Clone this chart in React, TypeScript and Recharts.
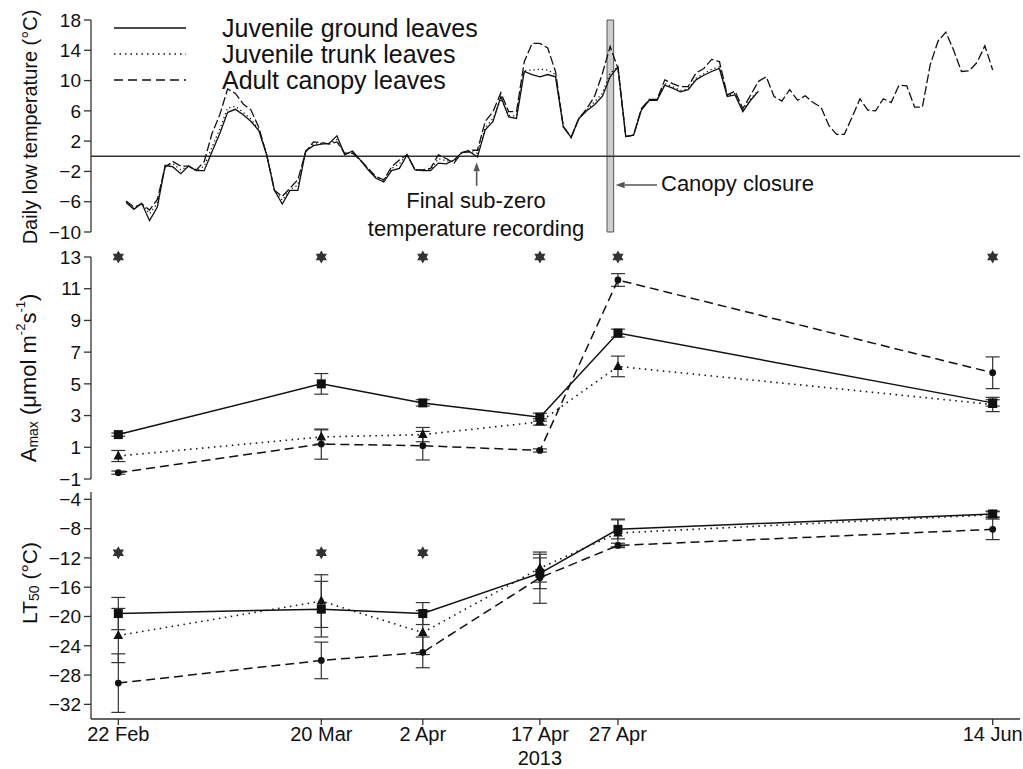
import React from 'react';
import {
  ComposedChart,
  Line,
  Scatter,
  XAxis,
  YAxis,
  ErrorBar,
  ReferenceLine,
  ReferenceArea,
} from 'recharts';

const FONT = '"Liberation Sans", Arial, Helvetica, sans-serif';
const INK = '#111';
const AXIS = '#333';

// Daily low temperature, one value per day from 23 Feb (day 54)
const tempStartDay = 54;
const groundTemp = [
  -6.1, -7.0, -6.2, -8.5, -6.7, -1.2, -1.4, -2.3, -1.3, -1.9, -1.9, 0.6, 3.0, 5.8, 6.2, 5.5,
  4.6, 3.4, 0.2, -4.5, -6.3, -4.5, -4.5, 0.7, 1.4, 1.6, 1.7, 2.7, 0.2, 0.7, -0.5, -1.8,
  -2.9, -3.4, -1.9, -1.6, 0.2, -1.8, -1.9, -1.9, -0.9, -1.0, -0.5, 0.5, 0.6, -0.1, 3.5, 4.6,
  7.9, 5.2, 5.0, 11.2, 10.8, 10.5, 10.8, 10.5, 3.9, 2.5, 5.0, 6.0, 6.8, 7.9, 10.5, 11.8,
  2.6, 2.8, 6.1, 7.4, 7.4, 9.4, 9.0, 8.5, 8.8, 10.1, 10.7, 11.2, 11.6, 7.9, 8.1, 5.9,
  7.4, 8.6,
];
const trunkTemp = [
  -6.0, -6.9, -6.2, -7.6, -6.2, -1.3, -1.0, -1.8, -1.3, -1.9, -1.3, 1.2, 3.6, 6.4, 6.6, 5.8,
  4.9, 3.5, 0.2, -4.5, -5.8, -4.4, -3.8, 0.6, 1.6, 1.7, 1.7, 2.2, 0.3, 0.6, -0.5, -1.7,
  -2.8, -3.2, -1.6, -1.0, 0.2, -1.8, -1.8, -1.8, -0.3, -0.6, -0.7, 0.5, 0.7, 0.4, 3.8, 5.0,
  7.6, 5.4, 5.3, 11.3, 11.4, 11.5, 11.4, 10.8, 3.9, 2.5, 5.0, 6.1, 7.2, 8.3, 11.0, 11.8,
  2.6, 2.8, 6.2, 7.4, 7.4, 9.6, 9.2, 8.7, 8.9, 10.3, 10.9, 11.5, 11.8, 8.0, 8.3, 6.0,
  7.6, 8.7,
];
const canopyTemp = [
  -5.9, -6.7, -6.3, -7.1, -5.7, -1.4, -0.7, -1.3, -1.3, -1.8, -0.7, 3.0, 5.5, 8.9, 8.3, 6.9,
  6.1, 3.8, 0.2, -4.5, -5.3, -4.2, -3.1, 0.6, 1.9, 1.8, 1.6, 1.9, 0.4, 0.4, -0.5, -1.6,
  -2.7, -3.1, -1.4, -0.5, 0.2, -1.8, -1.8, -1.6, 0.2, -0.3, -0.9, 0.5, 0.8, 0.8, 4.6, 5.9,
  8.4, 5.9, 5.9, 12.5, 14.9, 14.9, 14.3, 11.2, 3.9, 2.5, 5.0, 6.3, 7.9, 10.9, 14.5, 11.6,
  2.6, 2.8, 6.3, 7.5, 7.5, 10.1, 9.6, 9.2, 9.2, 11.0, 11.6, 12.8, 12.5, 8.1, 8.6, 6.3,
  8.1, 9.9, 10.5, 7.9, 7.3, 8.8, 7.4, 8.0, 7.1, 6.5, 4.1, 2.9, 2.9, 5.2, 7.6, 6.1,
  6.0, 7.6, 7.1, 9.4, 9.3, 6.5, 6.5, 12.1, 15.2, 16.4, 14.0, 11.2, 11.3, 12.4, 14.6, 11.4,
];

// sampling dates, day of year 2013
const sampleDays = [53, 79, 92, 107, 117, 165];
const sampleLabels = ['22 Feb', '20 Mar', '2 Apr', '17 Apr', '27 Apr', '14 Jun'];
const yearLabel = '2013';
const yearUnderDay = 107;

const amaxGround = [1.8, 5.0, 3.8, 2.9, 8.2, 3.8];
const amaxGroundErr = [0.1, 0.65, 0.2, 0.25, 0.25, 0.2];
const amaxTrunk = [0.45, 1.65, 1.8, 2.6, 6.1, 3.7];
const amaxTrunkErr = [0.35, 0.45, 0.45, 0.2, 0.65, 0.45];
const amaxCanopy = [-0.6, 1.2, 1.1, 0.8, 11.55, 5.7];
const amaxCanopyErr = [0.1, 0.95, 0.9, 0.1, 0.4, 1.0];

const ltGround = [-19.6, -19.0, -19.6, -14.1, -8.1, -6.0];
const ltGroundErr = [2.2, 3.8, 1.5, 2.1, 1.3, 0.4];
const ltTrunk = [-22.6, -17.9, -22.2, -13.4, -8.6, -6.1];
const ltTrunkErr = [3.7, 3.6, 3.0, 1.9, 1.9, 0.4];
const ltCanopy = [-29.1, -26.0, -24.9, -14.7, -10.3, -8.1];
const ltCanopyErr = [4.0, 2.5, 2.1, 3.5, 0.3, 1.4];

// significance markers
const amaxSigDays = [53, 79, 92, 107, 117, 165];
const amaxSigLevel = 13;
const ltSigDays = [53, 79, 92];
const ltSigLevel = -11.3;

const tempTicks = [-10, -6, -2, 2, 6, 10, 14, 18];
const amaxTicks = [-1, 1, 3, 5, 7, 9, 11, 13];
const ltTicks = [-32, -28, -24, -20, -16, -12, -8, -4];

const xDomain: [number, number] = [49.5, 168.5];
const closureDays = [115.6, 116.45];
const subZeroDay = 98.9;

const legendItems = [
  { name: 'Juvenile ground leaves', dash: undefined as string | undefined },
  { name: 'Juvenile trunk leaves', dash: '1.5 4' },
  { name: 'Adult canopy leaves', dash: '9 5' },
];

const tempRows = canopyTemp.map((c, i) => ({
  day: tempStartDay + i,
  ground: i < groundTemp.length ? groundTemp[i] : null,
  trunk: i < trunkTemp.length ? trunkTemp[i] : null,
  canopy: c,
}));

const amaxRows = sampleDays.map((d, i) => ({
  day: d,
  ground: amaxGround[i],
  groundErr: amaxGroundErr[i],
  trunk: amaxTrunk[i],
  trunkErr: amaxTrunkErr[i],
  canopy: amaxCanopy[i],
  canopyErr: amaxCanopyErr[i],
}));

const ltRows = sampleDays.map((d, i) => ({
  day: d,
  ground: ltGround[i],
  groundErr: ltGroundErr[i],
  trunk: ltTrunk[i],
  trunkErr: ltTrunkErr[i],
  canopy: ltCanopy[i],
  canopyErr: ltCanopyErr[i],
}));

const amaxSigRows = amaxSigDays.map((d) => ({ day: d, sig: amaxSigLevel }));
const ltSigRows = ltSigDays.map((d) => ({ day: d, sig: ltSigLevel }));

const minus = (v: number) => (v < 0 ? `\u2212${Math.abs(v)}` : `${v}`);

const SquareDot = (p: any) =>
  p.cx == null || p.cy == null ? null : (
    <rect key={`sq-${p.index}`} x={p.cx - 4.5} y={p.cy - 4.5} width={9} height={9} fill={INK} />
  );

const TriangleDot = (p: any) =>
  p.cx == null || p.cy == null ? null : (
    <polygon
      key={`tr-${p.index}`}
      points={`${p.cx},${p.cy - 5.5} ${p.cx - 4.8},${p.cy + 3.5} ${p.cx + 4.8},${p.cy + 3.5}`}
      fill={INK}
    />
  );

const CircleDot = (p: any) =>
  p.cx == null || p.cy == null ? null : (
    <circle key={`ci-${p.index}`} cx={p.cx} cy={p.cy} r={3.4} fill={INK} />
  );

// six-pointed significance star
const Hexagram = (p: any) => {
  const R = 6.5;
  const r = R / Math.sqrt(3);
  const pts: string[] = [];
  for (let k = 0; k < 12; k++) {
    const a = -Math.PI / 2 + (k * Math.PI) / 6;
    const rad = k % 2 === 0 ? R : r;
    pts.push(`${p.cx + rad * Math.cos(a)},${p.cy + rad * Math.sin(a)}`);
  }
  return <polygon points={pts.join(' ')} fill="#333" />;
};

const Arrow = (p: any) => {
  const { x1, y1, x2, y2 } = p;
  const ang = Math.atan2(y2 - y1, x2 - x1);
  const len = 9;
  const half = 3.2;
  const bx = x2 - len * Math.cos(ang);
  const by = y2 - len * Math.sin(ang);
  const px = -Math.sin(ang) * half;
  const py = Math.cos(ang) * half;
  return (
    <g>
      <line x1={x1} y1={y1} x2={bx} y2={by} stroke="#555" strokeWidth={1.6} />
      <polygon points={`${x2},${y2} ${bx + px},${by + py} ${bx - px},${by - py}`} fill="#555" />
    </g>
  );
};

const DateTick = (p: any) => {
  const { x, y, payload } = p;
  const i = sampleDays.indexOf(payload.value);
  return (
    <g>
      <text x={x} y={y} dy="0.71em" textAnchor="middle" fontSize={20} fontFamily={FONT} fill={INK}>
        {sampleLabels[i]}
      </text>
      {payload.value === yearUnderDay && (
        <text x={x} y={y + 24} dy="0.71em" textAnchor="middle" fontSize={20} fontFamily={FONT} fill={INK}>
          {yearLabel}
        </text>
      )}
    </g>
  );
};

const rot = (x: number, y: number) => `rotate(-90 ${x} ${y})`;

const TempTitle = () => (
  <text x={30} y={127} transform={rot(30, 127)} textAnchor="middle" dominantBaseline="central"
    fontSize={20} fontFamily={FONT} fill={INK}>
    Daily low temperature (°C)
  </text>
);

const AmaxTitle = () => (
  <text x={28} y={138} transform={rot(28, 138)} textAnchor="middle" dominantBaseline="central"
    fontSize={22} fontFamily={FONT} fill={INK}>
    A<tspan fontSize={14} dy={5}>max</tspan>
    <tspan dy={-5}> (μmol m</tspan>
    <tspan fontSize={13} dy={-8}>-2</tspan>
    <tspan dy={8}>s</tspan>
    <tspan fontSize={13} dy={-8}>-1</tspan>
    <tspan dy={8}>)</tspan>
  </text>
);

const LtTitle = () => (
  <text x={29} y={98} transform={rot(29, 98)} textAnchor="middle" dominantBaseline="central"
    fontSize={21} fontFamily={FONT} fill={INK}>
    LT<tspan fontSize={14} dy={5}>50</tspan>
    <tspan dy={-5}> (°C)</tspan>
  </text>
);

const yAxisProps = {
  width: 50,
  tickSize: 7,
  tickMargin: 3,
  interval: 0 as const,
  axisLine: { stroke: AXIS, strokeWidth: 1.3 },
  tickLine: { stroke: AXIS, strokeWidth: 1.3 },
  tick: { fontSize: 19, fontFamily: FONT, fill: INK },
  tickFormatter: minus,
};

const margin = { top: 0, right: 3, bottom: 0, left: 41 };

export default function App() {
  const errStyle = { stroke: '#333', strokeWidth: 1.2, width: 7 };
  return (
    <div style={{ position: 'relative', width: 1023, height: 769, background: '#fff', fontFamily: FONT }}>
      <style>{'body{margin:0}'}</style>

      {/* daily low temperature */}
      <div style={{ position: 'absolute', left: 0, top: 0 }}>
        <ComposedChart width={1023} height={252} data={tempRows} margin={{ ...margin, top: 20, bottom: 20 }}>
          <XAxis dataKey="day" type="number" domain={xDomain} hide />
          <YAxis {...yAxisProps} domain={[-10, 18]} ticks={tempTicks} label={<TempTitle />} />
          <ReferenceArea x1={closureDays[0]} x2={closureDays[1]} y1={-10} y2={18}
            fill="#cdcdcd" fillOpacity={1} stroke="#555" strokeWidth={1} />
          <ReferenceLine y={0} stroke="#333" strokeWidth={1.6} />
          <Line dataKey="ground" stroke={INK} strokeWidth={1.3} dot={false} isAnimationActive={false} />
          <Line dataKey="trunk" stroke={INK} strokeWidth={1.3} strokeDasharray="1.2 3" dot={false} isAnimationActive={false} />
          <Line dataKey="canopy" stroke={INK} strokeWidth={1.3} strokeDasharray="9 3" dot={false} isAnimationActive={false} />
          <ReferenceLine segment={[{ x: subZeroDay, y: -3.9 }, { x: subZeroDay, y: -0.8 }]} shape={Arrow} />
          <ReferenceLine segment={[{ x: 122, y: -3.8 }, { x: 116.7, y: -3.8 }]} shape={Arrow} />
        </ComposedChart>
      </div>

      {/* Amax */}
      <div style={{ position: 'absolute', left: 0, top: 240 }}>
        <ComposedChart width={1023} height={256} data={amaxRows} margin={{ ...margin, top: 17, bottom: 17 }}>
          <XAxis dataKey="day" type="number" domain={xDomain} hide />
          <YAxis {...yAxisProps} domain={[-1, 13]} ticks={amaxTicks} label={<AmaxTitle />} />
          <Line dataKey="ground" stroke={INK} strokeWidth={1.5} dot={SquareDot} isAnimationActive={false}>
            <ErrorBar dataKey="groundErr" direction="y" {...errStyle} />
          </Line>
          <Line dataKey="trunk" stroke={INK} strokeWidth={1.6} strokeDasharray="1.5 4.5" dot={TriangleDot} isAnimationActive={false}>
            <ErrorBar dataKey="trunkErr" direction="y" {...errStyle} />
          </Line>
          <Line dataKey="canopy" stroke={INK} strokeWidth={1.5} strokeDasharray="9 5" dot={CircleDot} isAnimationActive={false}>
            <ErrorBar dataKey="canopyErr" direction="y" {...errStyle} />
          </Line>
          <Scatter data={amaxSigRows} dataKey="sig" shape={Hexagram} isAnimationActive={false} />
        </ComposedChart>
      </div>

      {/* LT50 */}
      <div style={{ position: 'absolute', left: 0, top: 485 }}>
        <ComposedChart width={1023} height={284} data={ltRows} margin={{ ...margin, top: 7, bottom: 5 }}>
          <XAxis dataKey="day" type="number" domain={xDomain} ticks={sampleDays} interval={0}
            height={45} tickSize={6} tickMargin={2}
            axisLine={{ stroke: AXIS, strokeWidth: 1.3 }} tickLine={{ stroke: AXIS, strokeWidth: 1.3 }}
            tick={<DateTick />} />
          <YAxis {...yAxisProps} domain={[-34, -3]} ticks={ltTicks} label={<LtTitle />} />
          <Line dataKey="ground" stroke={INK} strokeWidth={1.5} dot={SquareDot} isAnimationActive={false}>
            <ErrorBar dataKey="groundErr" direction="y" {...errStyle} />
          </Line>
          <Line dataKey="trunk" stroke={INK} strokeWidth={1.6} strokeDasharray="1.5 4.5" dot={TriangleDot} isAnimationActive={false}>
            <ErrorBar dataKey="trunkErr" direction="y" {...errStyle} />
          </Line>
          <Line dataKey="canopy" stroke={INK} strokeWidth={1.5} strokeDasharray="9 5" dot={CircleDot} isAnimationActive={false}>
            <ErrorBar dataKey="canopyErr" direction="y" {...errStyle} />
          </Line>
          <Scatter data={ltSigRows} dataKey="sig" shape={Hexagram} isAnimationActive={false} />
        </ComposedChart>
      </div>

      {/* legend */}
      {legendItems.map((it, i) => (
        <div key={it.name} style={{ position: 'absolute', left: 114, top: 15 + i * 26, height: 26,
          display: 'flex', alignItems: 'center', fontSize: 25, lineHeight: '26px', color: INK }}>
          <svg width={72} height={26} style={{ marginRight: 36 }}>
            <line x1={0} y1={13} x2={72} y2={13} stroke={INK} strokeWidth={1.5} strokeDasharray={it.dash} />
          </svg>
          <span>{it.name}</span>
        </div>
      ))}

      {/* annotations */}
      <div style={{ position: 'absolute', left: 326, width: 300, top: 187, textAlign: 'center',
        fontSize: 22, lineHeight: '28px', color: INK }}>
        Final sub-zero<br />temperature recording
      </div>
      <div style={{ position: 'absolute', left: 661, top: 170, fontSize: 22, lineHeight: '28px', color: INK }}>
        Canopy closure
      </div>
    </div>
  );
}
